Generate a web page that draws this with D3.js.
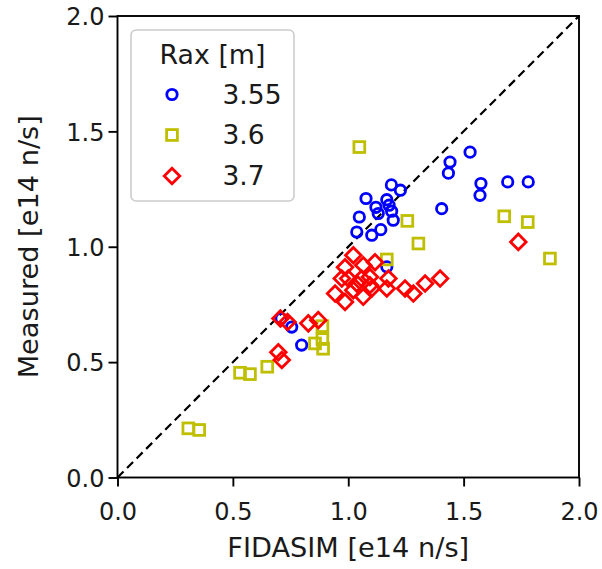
<!DOCTYPE html>
<html><head><meta charset="utf-8">
<script src="https://cdn.jsdelivr.net/npm/d3@7"></script>
<style>body{margin:0;background:#fff}svg{display:block}text{font-family:"DejaVu Sans",sans-serif;fill:#1a1a1a}</style>
</head><body>
<script>
// Data: [FIDASIM, Measured] in e14 n/s
const rax355 = [[1.528,1.410],[1.441,1.367],[1.434,1.319],[1.575,1.274],[1.571,1.223],[1.691,1.281],[1.780,1.281],[1.405,1.165],
  [1.187,1.268],[1.226,1.245],[1.077,1.209],[1.120,1.171],[1.167,1.204],[1.177,1.180],[1.130,1.144],[1.195,1.115],[1.188,1.154],
  [1.048,1.129],[1.037,1.064],[1.102,1.050],[1.141,1.074],[1.167,0.913],[0.709,0.689],[0.755,0.652],[0.798,0.574]];
const rax36 = [[1.048,1.432],[1.256,1.112],[1.304,1.014],[1.676,1.132],[1.778,1.107],[1.874,0.949],[1.167,0.945],
  [0.888,0.656],[0.888,0.600],[0.891,0.558],[0.856,0.581],[0.531,0.454],[0.574,0.448],[0.649,0.480],[0.307,0.213],[0.354,0.206]];
const rax37 = [[1.022,0.963],[1.065,0.920],[1.116,0.933],[0.986,0.911],[0.972,0.862],[1.058,0.862],[1.094,0.869],[1.174,0.862],
  [0.943,0.797],[0.986,0.761],[1.065,0.783],[1.102,0.819],[1.167,0.819],[1.022,0.812],[1.246,0.819],[1.282,0.797],[1.333,0.841],
  [1.398,0.862],[1.000,0.862],[1.037,0.841],[1.094,0.833],[1.737,1.021],
  [0.706,0.689],[0.737,0.674],[0.827,0.668],[0.870,0.682],[0.697,0.543],[0.712,0.509]];
const ticks = [0, 0.5, 1.0, 1.5, 2.0];
const legendTitle = "Rax [m]";
const seriesNames = ["3.55", "3.6", "3.7"];

const W = 602, H = 569;
const m = {left: 117.5, right: 23, top: 16, bottom: 91.5};
const svg = d3.select("body").append("svg").attr("width", W).attr("height", H);
const x = d3.scaleLinear().domain([0, 2]).range([m.left, W - m.right]);
const y = d3.scaleLinear().domain([0, 2]).range([H - m.bottom, m.top]);

// diagonal
svg.append("line").attr("x1", x(0)).attr("y1", y(0)).attr("x2", x(2)).attr("y2", y(2))
  .attr("stroke", "#000").attr("stroke-width", 2.2).attr("stroke-dasharray", "8.5,5");

const sw = 2.8;
function drawCircle(g, cx, cy){ g.append("circle").attr("cx", cx).attr("cy", cy).attr("r", 5.2).attr("fill","none").attr("stroke","#0000ff").attr("stroke-width", sw); }
function drawSquare(g, cx, cy){ g.append("rect").attr("x", cx-5.4).attr("y", cy-5.4).attr("width",10.8).attr("height",10.8).attr("fill","none").attr("stroke","#bfbf00").attr("stroke-width", sw); }
function drawDiamond(g, cx, cy){ const r=7.8; g.append("path").attr("d",`M${cx},${cy-r}L${cx+r},${cy}L${cx},${cy+r}L${cx-r},${cy}Z`).attr("fill","none").attr("stroke","#ff0000").attr("stroke-width", sw); }

const pg = svg.append("g");
rax355.forEach(d => drawCircle(pg, x(d[0]), y(d[1])));
rax36.forEach(d => drawSquare(pg, x(d[0]), y(d[1])));
rax37.forEach(d => drawDiamond(pg, x(d[0]), y(d[1])));

// axes
const fmt = d3.format(".1f");
const xa = svg.append("g").attr("transform", `translate(0,${y(0)})`)
  .call(d3.axisBottom(x).tickValues(ticks).tickFormat(fmt).tickSize(9).tickPadding(5));
const ya = svg.append("g").attr("transform", `translate(${x(0)},0)`)
  .call(d3.axisLeft(y).tickValues(ticks).tickFormat(fmt).tickSize(9).tickPadding(4));
[xa, ya].forEach(a => {
  a.selectAll("text").attr("font-size", 24).style("font-family","DejaVu Sans").attr("fill","#1a1a1a");
  a.selectAll("line").attr("stroke","#000").attr("stroke-width",1.9);
  a.select(".domain").remove();
});
xa.selectAll("text").attr("dy", null).attr("y", 42.5);
ya.selectAll("text").attr("dy", "0.36em");
svg.append("rect").attr("x", x(0)).attr("y", y(2)).attr("width", x(2)-x(0)).attr("height", y(0)-y(2))
  .attr("fill","none").attr("stroke","#000").attr("stroke-width",1.9);

svg.append("text").attr("x", (x(0)+x(2))/2).attr("y", 557).attr("text-anchor","middle").attr("font-size",27.2).text("FIDASIM [e14 n/s]");
svg.append("text").attr("transform", `translate(37.5,${(y(0)+y(2))/2}) rotate(-90)`).attr("text-anchor","middle").attr("font-size",27.2).text("Measured [e14 n/s]");

// legend
const lg = svg.append("g");
lg.append("rect").attr("x", 131).attr("y", 30).attr("width", 163).attr("height", 171).attr("rx", 5)
  .attr("fill","#fff").attr("fill-opacity",0.8).attr("stroke","#cccccc").attr("stroke-width",1.6);
lg.append("text").attr("x", 212.5).attr("y", 63.5).attr("text-anchor","middle").attr("font-size",26.8).text(legendTitle);
const ly = [94.5, 135, 176];
const drawers = [drawCircle, drawSquare, drawDiamond];
seriesNames.forEach((n,i) => {
  drawers[i](lg, 172, ly[i]);
  lg.append("text").attr("x", 222.5).attr("y", ly[i]+9).attr("font-size",26.5).text(n);
});
</script>
</body></html>
